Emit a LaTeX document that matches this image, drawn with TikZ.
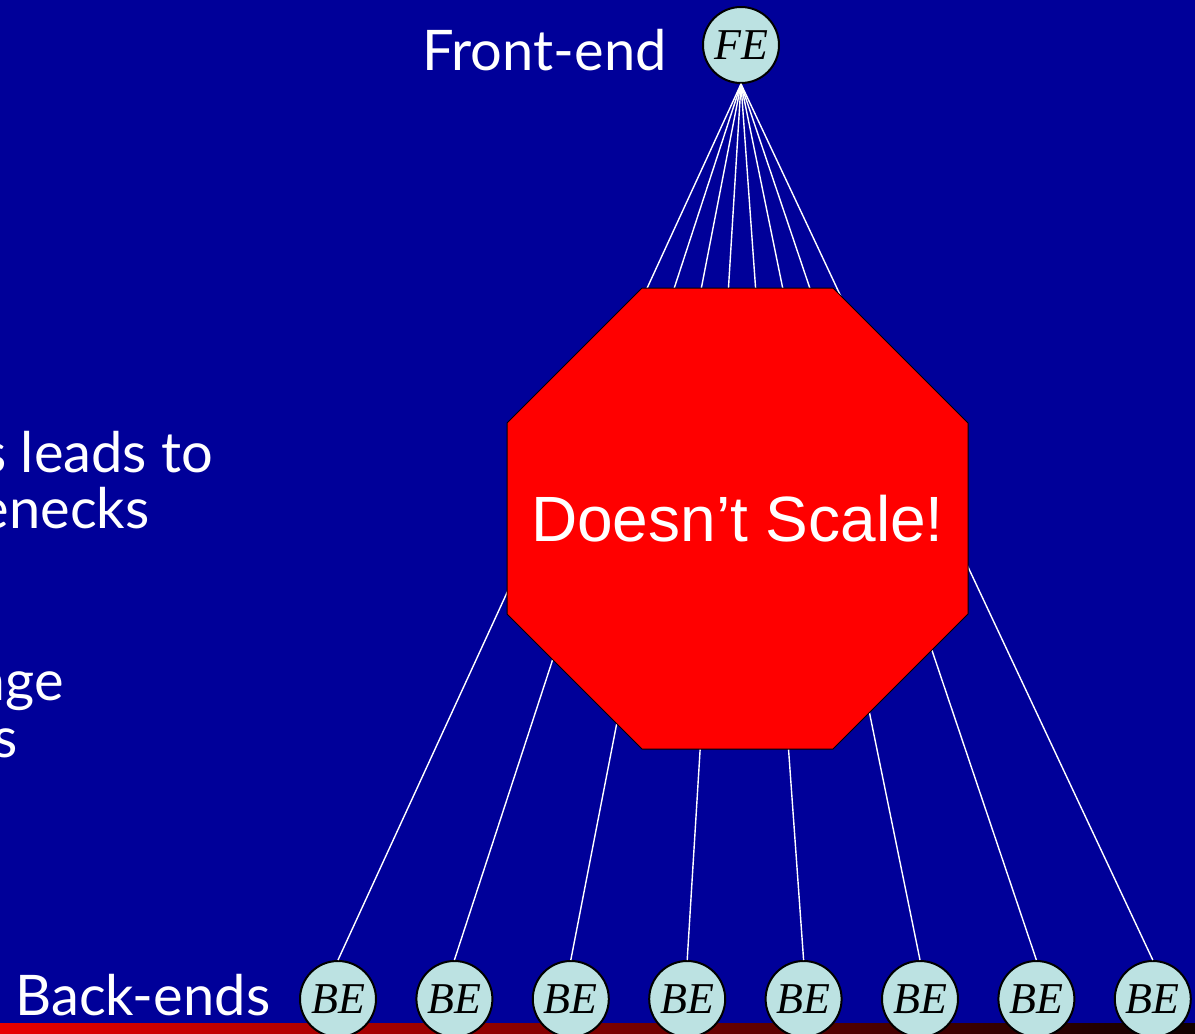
\documentclass[tikz,border=0pt]{standalone}
\usepackage{fontspec}
\setmainfont{Lato}
\newfontfamily\arialfont{Liberation Sans}
\newfontfamily\timesfont{Liberation Serif}
\usetikzlibrary{shapes.geometric}

\definecolor{slideblue}{RGB}{0,0,153}
\definecolor{nodecyan}{RGB}{188,226,226}
\definecolor{barred}{RGB}{232,0,0}
\definecolor{bardark}{RGB}{16,0,0}

\begin{document}
\begin{tikzpicture}[%
    x=0.5pt,
    y=-0.5pt,
    server/.style={circle, draw=black, line width=1pt, fill=nodecyan,
      minimum size=38pt, inner sep=0pt,
      font=\timesfont\itshape\fontsize{22}{22}\selectfont},
    slidetext/.style={text=white, inner sep=0pt, font=\fontsize{28}{28}\selectfont},
    link/.style={white, line width=0.7pt},
    stopsign/.style={regular polygon, regular polygon sides=8, draw=black,
      line width=0.5pt, fill=red, inner sep=0pt, minimum size=249.5pt}
  ]
  \useasboundingbox (0,0) rectangle (1195,1034);
  \fill[slideblue] (0,0) rectangle (1195,1034);
  \shade[left color=barred, right color=bardark] (0,1023) rectangle (1195,1034);

  % bullet lines running in from the left
  \node[slidetext, anchor=base west] (bul1) at (-18,472) {s leads to};
  \node[slidetext, anchor=base east] (bul2) at (150,528) {enecks};
  \node[slidetext, anchor=base east] (bul3) at (64,700) {age};
  \node[slidetext, anchor=base east] (bul4) at (18,757) {s};

  \node[server] (fe) at (741,45) {FE};
  \node[slidetext, anchor=base east] (fetext) at (667,70) {Front-end};

  \foreach \i in {1,...,8}
    \node[server] (be\i) at ({338+116.4*(\i-1)},999) {BE};
  \node[slidetext, anchor=base west] (betext) at (15,1015) {Back-ends};

  \foreach \i in {1,...,8}
    \draw[link] (fe.south) -- (be\i.north);

  \node[stopsign] (stop) at (737.5,518.5) {};
  \node[text=white, font=\arialfont\fontsize{32}{32}\selectfont] (stoptext)
    at (stop.center) {Doesn’t Scale!};
\end{tikzpicture}
\end{document}
